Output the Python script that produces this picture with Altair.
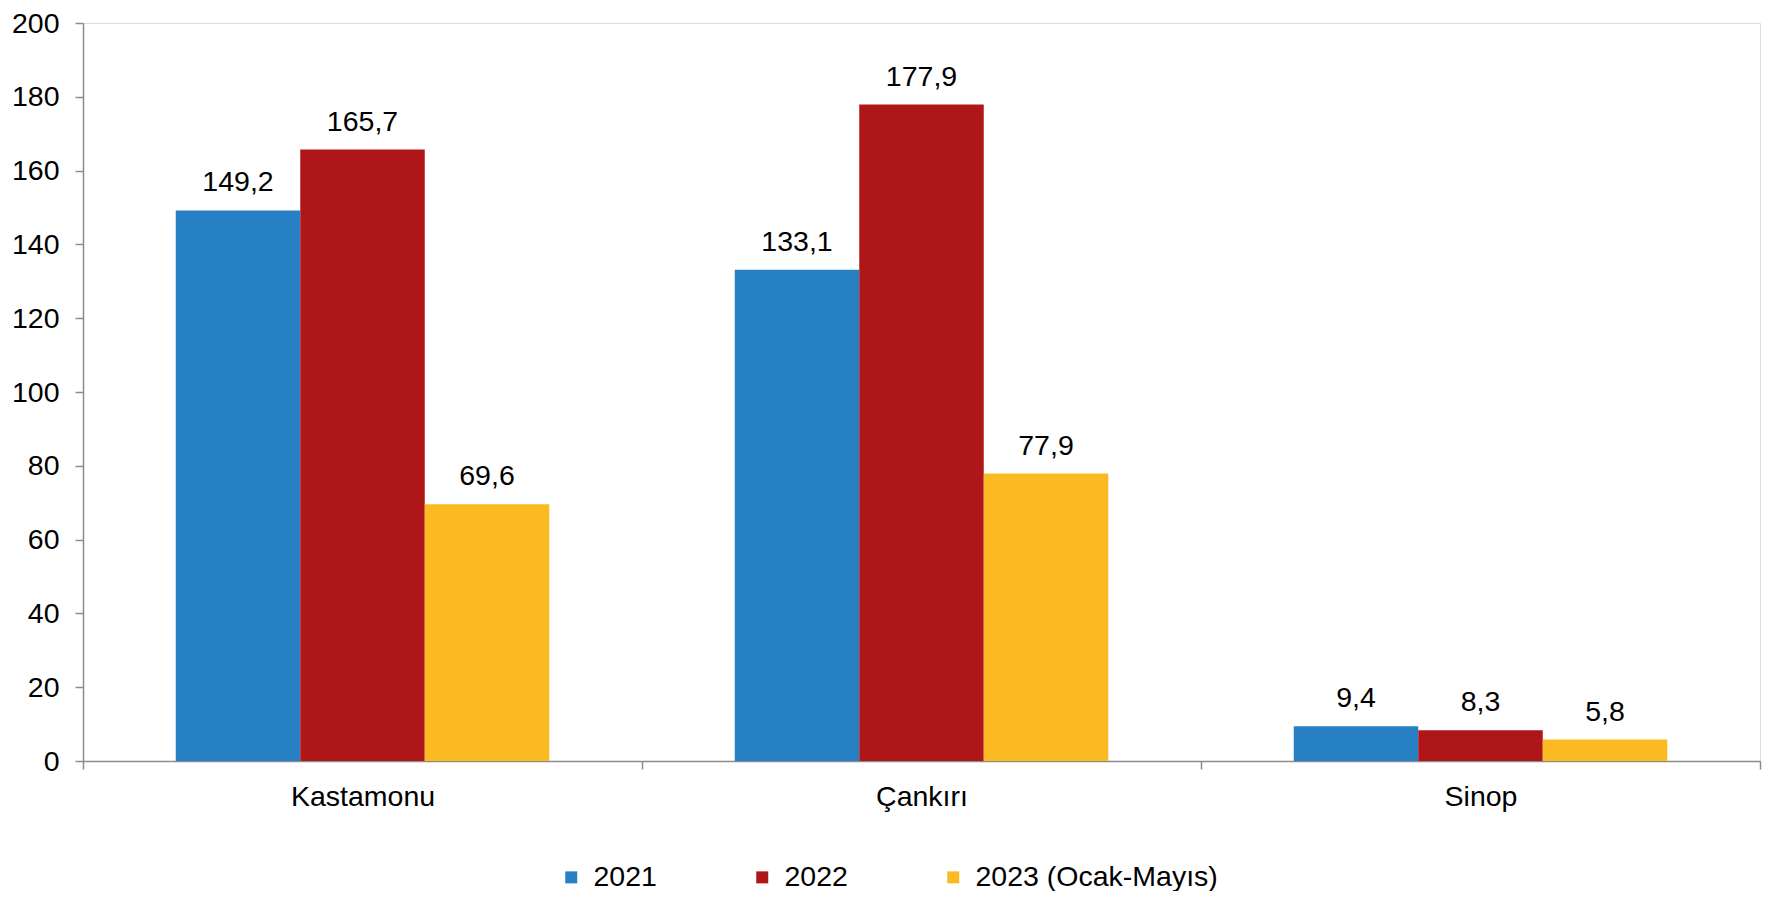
import altair as alt
import pandas as pd

categories = ["Kastamonu", "Çankırı", "Sinop"]
series = ["2021", "2022", "2023 (Ocak-Mayıs)"]
values_2021 = [149.2, 133.1, 9.4]
values_2022 = [165.7, 177.9, 8.3]
values_2023 = [69.6, 77.9, 5.8]
colors = ["#2780C4", "#AE1618", "#FBBA22"]
y_ticks = [0, 20, 40, 60, 80, 100, 120, 140, 160, 180, 200]

rows = []
for s, vals in zip(series, [values_2021, values_2022, values_2023]):
    for c, v in zip(categories, vals):
        rows.append({"il": c, "seri": s, "deger": v,
                     "etiket": f"{v:.1f}".replace(".", ",")})
df = pd.DataFrame(rows)

FONT = "Liberation Sans"
FS = 28.5

x = alt.X("il:N", sort=categories, title=None,
          scale=alt.Scale(paddingInner=0, paddingOuter=0),
          axis=alt.Axis(labelAngle=0, tickBand="extent", tickSize=8,
                        labelFontSize=FS, labelFont=FONT, labelColor="#000000",
                        labelPadding=13, domainColor="#8C8C8C", tickColor="#8C8C8C",
                        domainWidth=1.5, tickWidth=1.5))
xo = alt.XOffset("seri:N", sort=series,
                 scale=alt.Scale(paddingInner=0, paddingOuter=0.745))

y = alt.Y("deger:Q", title=None,
          scale=alt.Scale(domain=[0, 200], nice=False),
          axis=alt.Axis(values=y_ticks, grid=False, tickSize=8,
                        labelFontSize=FS, labelFont=FONT, labelColor="#000000",
                        labelPadding=16, domainColor="#8C8C8C", tickColor="#8C8C8C",
                        domainWidth=1.5, tickWidth=1.5))

color = alt.Color("seri:N", sort=series,
                  scale=alt.Scale(domain=series, range=colors),
                  legend=alt.Legend(title=None, orient="none", direction="horizontal",
                                    legendX=474, legendY=840, padding=0,
                                    symbolType="square", symbolSize=144,
                                    symbolStrokeWidth=0,
                                    labelFontSize=FS, labelFont=FONT, labelColor="#000000",
                                    labelOffset=8, columnPadding=91, labelLimit=400))

bars = alt.Chart(df).mark_bar(size=124.5).encode(x=x, xOffset=xo, y=y, color=color)

labels = alt.Chart(df).mark_text(baseline="alphabetic", align="center", dy=-19,
                                 fontSize=FS, font=FONT, color="#000000").encode(
    x=x, xOffset=xo, y=y, text="etiket:N")

chart = alt.layer(bars, labels).properties(
    width=1677, height=738,
    autosize=alt.AutoSizeParams(type="none"),
    padding={"left": 75, "top": 15, "right": 10, "bottom": 130},
).configure_view(stroke=None).configure(background="white")

chart.save("out.html", embed_options={"renderer": "svg", "actions": False})
